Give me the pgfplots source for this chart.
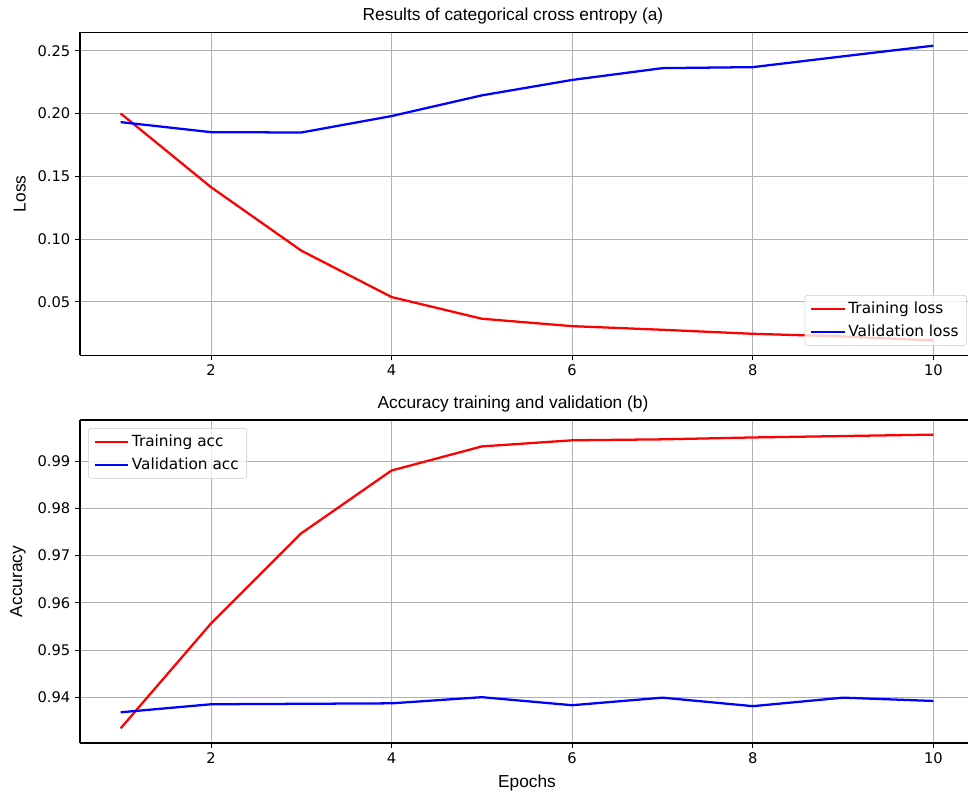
\documentclass[border=0pt]{standalone}
\usepackage{fontspec}
\setmainfont{DejaVu Sans}
\newfontfamily\arialf{Liberation Sans}
\usepackage{pgfplots}
\pgfplotsset{compat=1.18}

\pgfplotsset{
  mplstyle/.style={
    scale only axis,
    width=670.5pt, height=242.25pt,
    xmin=0.55, xmax=10.45,
    xtick={2,4,6,8,10},
    axis lines*=left,
    axis line style={-, line width=0.8pt},
    tick align=outside,
    major tick length=3.75pt,
    tick style={black, line width=0.6pt},
    grid=major,
    major grid style={color=black!31, line width=0.6pt},
    extra description/.code={\draw[line width=0.8pt] (rel axis cs:0,1) -- (rel axis cs:1,1);},
    font=\fontsize{11}{13}\selectfont,
    tick label style={font=\fontsize{11}{13}\selectfont},
    /pgf/number format/assume math mode=true,
    yticklabel style={/pgf/number format/fixed,
      /pgf/number format/fixed zerofill,
      /pgf/number format/precision=2},
    title style={font=\arialf\fontsize{13}{15}\selectfont, yshift=-3.5pt, xshift=-10.5pt},
    ylabel style={font=\arialf\fontsize{13}{15}\selectfont, yshift=2pt},
    xlabel style={font=\arialf\fontsize{13}{15}\selectfont, yshift=-1.5pt},
    legend cell align=left,
    legend style={draw=black!20, rounded corners=2pt, fill=white, fill opacity=0.8,
      text opacity=1, font=\fontsize{11.5}{13}\selectfont, inner xsep=4pt, inner ysep=3pt,
      row sep=3pt},
    legend image code/.code={\draw[#1] (0pt,0pt) -- (25pt,0pt);},
    every axis plot/.append style={line width=1.7pt},
  }
}

\begin{document}
\begin{tikzpicture}
\path[use as bounding box] (-60pt,-36pt) rectangle (666pt,557.25pt);
\clip (-60pt,-36pt) rectangle (666pt,557.25pt);

\begin{axis}[mplstyle,
  at={(0pt,290.8pt)}, anchor=south west,
  ymin=0.0073, ymax=0.2647,
  ytick={0.05,0.10,0.15,0.20,0.25},
  title={Results of categorical cross entropy (a)},
  ylabel={Loss},
  legend style={at={(0.992,0.03)}, anchor=south east},
]
\addplot[red] coordinates {(1,0.2000) (2,0.1413) (3,0.0907) (4,0.0537) (5,0.0364) (6,0.0305) (7,0.0276) (8,0.0244) (9,0.0223) (10,0.0191)};
\addlegendentry{Training loss}
\addplot[blue] coordinates {(1,0.1931) (2,0.1851) (3,0.1848) (4,0.1979) (5,0.2144) (6,0.2267) (7,0.2361) (8,0.2369) (9,0.2455) (10,0.2540)};
\addlegendentry{Validation loss}
\end{axis}

\begin{axis}[mplstyle,
  at={(0pt,0pt)}, anchor=south west,
  ymin=0.9303, ymax=0.9987,
  ytick={0.94,0.95,0.96,0.97,0.98,0.99},
  title={Accuracy training and validation (b)},
  xlabel={Epochs},
  ylabel={Accuracy},
  legend style={at={(0.009,0.975)}, anchor=north west},
]
\addplot[red] coordinates {(1,0.9334) (2,0.9556) (3,0.9747) (4,0.9880) (5,0.9931) (6,0.9944) (7,0.9946) (8,0.9950) (9,0.9953) (10,0.9956)};
\addlegendentry{Training acc}
\addplot[blue] coordinates {(1,0.9368) (2,0.9385) (3,0.9386) (4,0.9387) (5,0.9400) (6,0.9383) (7,0.9399) (8,0.9381) (9,0.9399) (10,0.9392)};
\addlegendentry{Validation acc}
\end{axis}
\end{tikzpicture}
\end{document}
